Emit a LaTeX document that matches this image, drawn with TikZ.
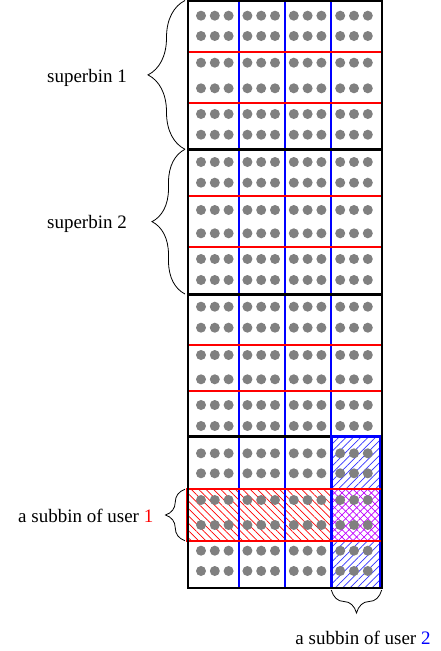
\documentclass[tikz,border=0pt]{standalone}
\usepackage{fontspec}
\setmainfont{Liberation Serif}
\usetikzlibrary{decorations.pathreplacing,patterns.meta}
\tikzset{>=latex}
\tikzstyle{dot}=[fill=gray]
\tikzstyle{rowline}=[red,line width=1.7]
\tikzstyle{colline}=[blue,line width=1.7]
\tikzstyle{binline}=[black,line width=3]
\tikzstyle{lbl}=[inner sep=0pt,font=\fontsize{19}{23}\selectfont]
\tikzset{curly/.style={decorate,decoration={brace,amplitude=#1},line width=0.8}}
\tikzset{hatchr/.style={pattern={Lines[angle=-45,distance=5.2pt,line width=0.7pt]},pattern color=#1}}
\tikzset{hatchb/.style={pattern={Lines[angle=45,distance=5.2pt,line width=0.7pt]},pattern color=#1}}

\begin{document}
\begin{tikzpicture}[x=1pt,y=-1pt]
	\def \xl {187.5};
	\def \xr {381.7};
	\def \xs {331.3};
	\def \yb {588};

	\useasboundingbox (0,0) rectangle (440,651);

	% hatched subbins
	\fill[hatchr=red] (\xl,489.3) rectangle (\xs,540.7);
	\fill[hatchb=blue!80] (\xs,436.7) rectangle (\xr,489.3);
	\fill[hatchb=blue!80] (\xs,540.7) rectangle (\xr,\yb);
	\fill[hatchr=magenta!75!blue] (\xs,489.3) rectangle (\xr,540.7);
	\fill[hatchb=magenta!75!blue] (\xs,489.3) rectangle (\xr,540.7);

	% dots
	\foreach \y in {15.7,36,62.7,88.3,114,134.7,162,182.7,210,233.3,259,280,
	                306.7,327.7,355,379.3,405,426,453.3,473.3,500,525,550.7,571} {
		\foreach \c in {0,...,3} {
			\foreach \k in {0,1,2} {
				\fill[dot] (201+\c*46.4+\k*13.8,\y) circle (5);
			};
		};
	};

	% grid
	\foreach \x in {238.7,285,\xs}
		\draw[colline] (\x,0) -- (\x,\yb);
	\foreach \y in {51.7,103,196,247.3,345,391.3,489.3,540.7}
		\draw[rowline] (\xl,\y) -- (\xr,\y);
	\foreach \y in {149.3,294,436.7}
		\draw[binline] (\xl,\y) -- (\xr,\y);

	% subbins of the users
	\draw[blue,line width=2.6] (\xs,436.7) rectangle (380.2,\yb);
	\draw[red,line width=2.3] (\xl,489.3) rectangle (\xr,540.7);
	\draw[line width=2] (\xl,1) rectangle (\xr,\yb);

	% braces
	\coordinate (s1a) at (185,149.3);
	\coordinate (s1b) at (185,0.5);
	\coordinate (s2a) at (185,294);
	\coordinate (s2b) at (185,149.3);
	\coordinate (u1a) at (185,540.7);
	\coordinate (u1b) at (185,489.3);
	\coordinate (u2a) at (\xr,590);
	\coordinate (u2b) at (\xs,590);

	\draw[curly=37] (s1a) -- (s1b);
	\draw[curly=33] (s2a) -- (s2b);
	\draw[curly=19.5] (u1a) -- (u1b);
	\draw[curly=23] (u2a) -- (u2b);

	\node[lbl,anchor=base east] (sb1) at (127,82.7) {superbin 1};
	\node[lbl,anchor=base east] (sb2) at (127,228) {superbin 2};
	\node[lbl,anchor=base east] (user1) at (153.5,522.7) {a subbin of user \textcolor{red}{1}};
	\node[lbl,anchor=base] (user2) at (363,644) {a subbin of user \textcolor{blue}{2}};
\end{tikzpicture}
\end{document}
